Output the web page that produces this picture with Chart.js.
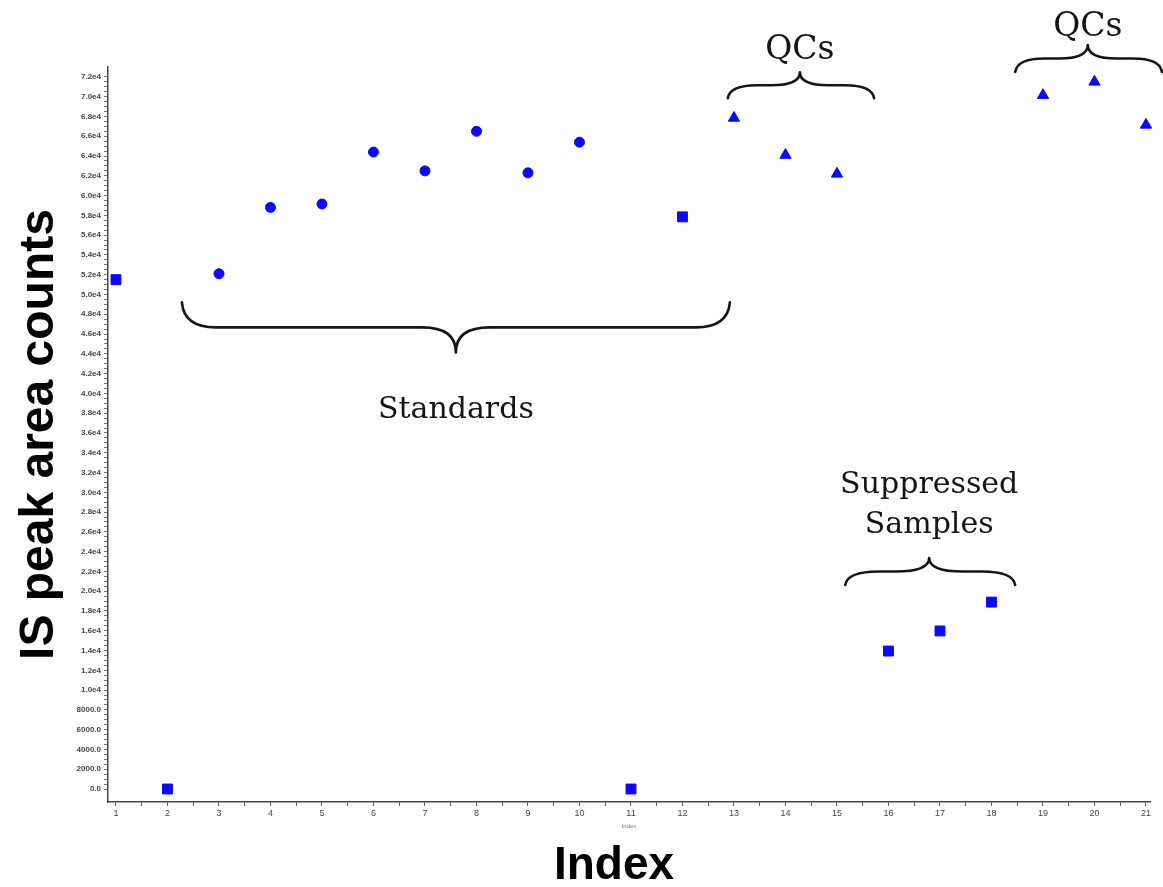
<!DOCTYPE html>
<html>
<head>
<meta charset="utf-8">
<title>IS peak area counts by injection index</title>
<script src="https://cdn.jsdelivr.net/npm/chart.js@4/dist/chart.umd.min.js"></script>
<style>
  html, body { margin: 0; padding: 0; background: #ffffff; }
  #wrap { position: relative; width: 1163px; height: 887px; }
</style>
</head>
<body>
<div id="wrap"><canvas id="chart" width="1163" height="887"></canvas></div>
<script>
// Injection order and internal-standard peak areas
const injectionIndex = [1, 2, 3, 4, 5, 6, 7, 8, 9, 10, 11, 12, 13, 14, 15, 16, 17, 18, 19, 20, 21];
const peakArea = [51500, 0, 52100, 58800, 59150, 64400, 62500, 66500, 62300, 65400, 0, 57850,
                  67850, 64100, 62200, 13950, 15980, 18900, 70150, 71500, 67150];
const sampleType = ['Sample', 'Sample', 'Standard', 'Standard', 'Standard', 'Standard', 'Standard',
                    'Standard', 'Standard', 'Standard', 'Sample', 'Sample', 'QC', 'QC', 'QC',
                    'Sample', 'Sample', 'Sample', 'QC', 'QC', 'QC'];

// Axis ticks
const xTickValues = [1, 2, 3, 4, 5, 6, 7, 8, 9, 10, 11, 12, 13, 14, 15, 16, 17, 18, 19, 20, 21];
const yTickValues = [0, 2000, 4000, 6000, 8000, 10000, 12000, 14000, 16000, 18000, 20000, 22000,
                     24000, 26000, 28000, 30000, 32000, 34000, 36000, 38000, 40000, 42000, 44000,
                     46000, 48000, 50000, 52000, 54000, 56000, 58000, 60000, 62000, 64000, 66000,
                     68000, 70000, 72000];

// Marker look for each sample type
const markerStyle = {
  Sample:   { pointStyle: 'rect',     radius: 7 },
  Standard: { pointStyle: 'circle',   radius: 5 },
  QC:       { pointStyle: 'triangle', radius: 6.5 }
};

const datasets = Object.keys(markerStyle).map(type => ({
  label: type,
  data: injectionIndex
    .map((x, i) => ({ x: x, y: peakArea[i], t: sampleType[i] }))
    .filter(p => p.t === type),
  pointStyle: markerStyle[type].pointStyle,
  pointRadius: markerStyle[type].radius,
  pointHoverRadius: markerStyle[type].radius,
  backgroundColor: '#0a0aff',
  borderColor: '#0a0aff',
  borderWidth: 1,
  showLine: false,
  clip: false
}));

// Curly-brace group annotations (x in index units, y in peak-area units)
const braces = [
  { from: 2.28,  to: 12.92, tip: 7.6,   at: 49200, depth: 50,  lines: ['Standards'],            textOffset: 58,  size: 30 },
  { from: 12.88, to: 15.72, tip: 14.28, at: 69850, depth: -26, lines: ['QCs'],                  textOffset: -22, size: 33 },
  { from: 18.46, to: 21.31, tip: 19.87, at: 72500, depth: -27, lines: ['QCs'],                  textOffset: -18, size: 33 },
  { from: 15.16, to: 18.46, tip: 16.79, at: 20630, depth: -27, lines: ['Suppressed', 'Samples'], textOffset: -33, size: 30, lineGap: 40 }
];

function drawBrace(ctx, x1, x2, xt, yEnd, yTip) {
  const yl = yEnd + (yTip - yEnd) * 0.5;
  const r = Math.min(34, (xt - x1) / 2.5, (x2 - xt) / 2.5);
  ctx.beginPath();
  ctx.moveTo(x1, yEnd);
  ctx.quadraticCurveTo(x1 + 2, yl, x1 + r, yl);
  ctx.lineTo(xt - r, yl);
  ctx.quadraticCurveTo(xt, yl, xt, yTip);
  ctx.moveTo(x2, yEnd);
  ctx.quadraticCurveTo(x2 - 2, yl, x2 - r, yl);
  ctx.lineTo(xt + r, yl);
  ctx.quadraticCurveTo(xt, yl, xt, yTip);
  ctx.stroke();
}

const annotationPlugin = {
  id: 'groupBraces',
  afterDraw(chart) {
    const { ctx, scales: { x, y }, chartArea } = chart;
    ctx.save();
    ctx.strokeStyle = '#151515';
    ctx.lineWidth = 2.6;
    ctx.lineCap = 'round';
    ctx.lineJoin = 'round';
    braces.forEach(b => {
      const yEnd = y.getPixelForValue(b.at);
      const yTip = yEnd + b.depth;
      const xt = x.getPixelForValue(b.tip);
      drawBrace(ctx, x.getPixelForValue(b.from), x.getPixelForValue(b.to), xt, yEnd, yTip);
      ctx.fillStyle = '#151515';
      ctx.font = b.size + 'px "DejaVu Serif", "Liberation Serif", serif';
      ctx.textAlign = 'center';
      ctx.textBaseline = 'middle';
      const gap = b.lineGap || 0;
      const n = b.lines.length;
      b.lines.forEach((t, i) => {
        const ty = yTip + b.textOffset - (n - 1 - i) * gap;
        ctx.fillText(t, xt, ty);
      });
    });
    // Large axis caption under the plot
    ctx.fillStyle = '#000000';
    ctx.font = 'bold 46px "Liberation Sans", Arial, sans-serif';
    ctx.textAlign = 'center';
    ctx.textBaseline = 'middle';
    ctx.fillText('Index', (chartArea.left + chartArea.right) / 2 - 15, 866);
    ctx.restore();
  }
};

function yLabel(v) {
  if (v === 0) return '0.0';
  if (v < 10000) return v.toFixed(1);
  return (v / 10000).toFixed(1) + 'e4';
}

new Chart(document.getElementById('chart'), {
  type: 'scatter',
  data: { datasets },
  options: {
    responsive: false,
    animation: false,
    layout: { padding: { top: 67, right: 13, left: 0, bottom: 0 } },
    plugins: { legend: { display: false }, tooltip: { enabled: false } },
    scales: {
      x: {
        type: 'linear',
        min: 0.845,
        max: 21.078,
        afterBuildTicks(scale) {
          const t = [];
          xTickValues.forEach((v, i) => {
            t.push({ value: v });
            if (i < xTickValues.length - 1) t.push({ value: v + 0.5 });
          });
          scale.ticks = t;
        },
        afterFit(scale) { scale.height = 85; },
        ticks: {
          autoSkip: false,
          maxRotation: 0,
          padding: 2,
          color: '#444',
          font: { family: '"Liberation Sans", Arial, sans-serif', size: 9 },
          callback: v => (Number.isInteger(v) ? String(v) : '')
        },
        grid: {
          drawOnChartArea: false,
          tickLength: 4,
          tickColor: '#555'
        },
        border: { color: '#444', width: 1.5 },
        title: {
          display: true,
          text: 'Index',
          color: '#777',
          font: { family: '"Liberation Sans", Arial, sans-serif', size: 6 },
          padding: { top: 0, bottom: 57 }
        }
      },
      y: {
        type: 'linear',
        min: -1314,
        max: 73003,
        afterBuildTicks(scale) {
          const t = [];
          yTickValues.forEach((v, i) => {
            t.push({ value: v });
            if (i < yTickValues.length - 1) {
              t.push({ value: v + 500 }, { value: v + 1000 }, { value: v + 1500 });
            }
          });
          scale.ticks = t;
        },
        afterFit(scale) { scale.width = 108; },
        ticks: {
          autoSkip: false,
          padding: 3,
          color: '#444',
          font: { family: '"Liberation Sans", Arial, sans-serif', size: 8, weight: 'bold' },
          callback: v => (v % 2000 === 0 ? yLabel(v) : '')
        },
        grid: {
          drawOnChartArea: false,
          tickLength: 4,
          tickColor: '#777'
        },
        border: { color: '#444', width: 1.5 },
        title: {
          display: true,
          text: 'IS peak area counts',
          color: '#000',
          font: { family: '"Liberation Sans", Arial, sans-serif', size: 48, weight: 'bold', lineHeight: 1.2 },
          padding: { top: 11, bottom: 0 }
        }
      }
    }
  },
  plugins: [annotationPlugin]
});
</script>
</body>
</html>
